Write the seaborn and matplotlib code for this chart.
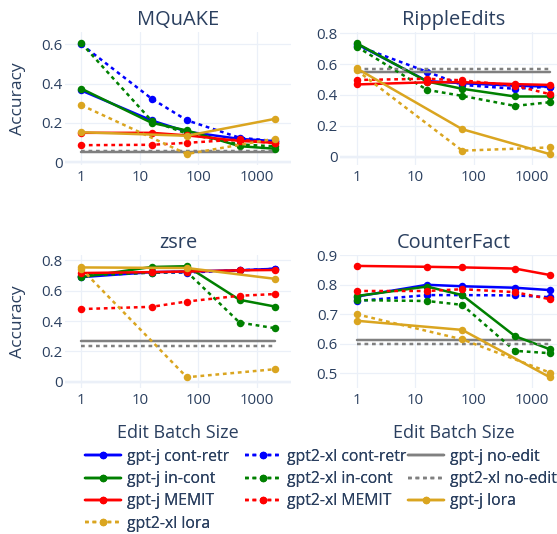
import matplotlib
matplotlib.use("Agg")
import matplotlib.pyplot as plt
import pandas as pd
import seaborn as sns
from matplotlib.lines import Line2D

# ---------------------------------------------------------------- data
batch_sizes = [1, 16, 64, 512, 2048]
lora_batch_sizes = [1, 64, 2048]
datasets = ["MQuAKE", "RippleEdits", "zsre", "CounterFact"]

mquake = {
    "gpt-j cont-retr": [0.365, 0.212, 0.155, 0.118, 0.107],
    "gpt2-xl cont-retr": [0.600, 0.323, 0.213, 0.124, 0.107],
    "gpt-j in-cont": [0.374, 0.200, 0.161, 0.081, 0.068],
    "gpt2-xl in-cont": [0.606, 0.210, 0.145, 0.090, 0.080],
    "gpt-j MEMIT": [0.149, 0.149, 0.136, 0.108, 0.098],
    "gpt2-xl MEMIT": [0.086, 0.088, 0.098, 0.115, 0.095],
    "gpt-j lora": [0.152, 0.134, 0.220],
    "gpt2-xl lora": [0.290, 0.041, 0.119],
}
rippleedits = {
    "gpt-j cont-retr": [0.730, 0.490, 0.476, 0.460, 0.454],
    "gpt2-xl cont-retr": [0.720, 0.550, 0.465, 0.440, 0.454],
    "gpt-j in-cont": [0.735, 0.487, 0.440, 0.390, 0.390],
    "gpt2-xl in-cont": [0.713, 0.433, 0.394, 0.329, 0.353],
    "gpt-j MEMIT": [0.468, 0.482, 0.483, 0.470, 0.465],
    "gpt2-xl MEMIT": [0.497, 0.505, 0.495, 0.460, 0.405],
    "gpt-j lora": [0.572, 0.178, 0.016],
    "gpt2-xl lora": [0.560, 0.039, 0.060],
}
zsre = {
    "gpt-j cont-retr": [0.690, 0.723, 0.727, 0.735, 0.745],
    "gpt2-xl cont-retr": [0.700, 0.720, 0.720, 0.735, 0.745],
    "gpt-j in-cont": [0.690, 0.757, 0.762, 0.540, 0.496],
    "gpt2-xl in-cont": [0.700, 0.720, 0.725, 0.390, 0.353],
    "gpt-j MEMIT": [0.717, 0.723, 0.727, 0.735, 0.737],
    "gpt2-xl MEMIT": [0.479, 0.494, 0.529, 0.567, 0.578],
    "gpt-j lora": [0.754, 0.750, 0.679],
    "gpt2-xl lora": [0.745, 0.029, 0.082],
}
counterfact = {
    "gpt-j cont-retr": [0.760, 0.800, 0.795, 0.790, 0.782],
    "gpt2-xl cont-retr": [0.745, 0.765, 0.765, 0.764, 0.758],
    "gpt-j in-cont": [0.762, 0.794, 0.765, 0.626, 0.581],
    "gpt2-xl in-cont": [0.748, 0.745, 0.732, 0.576, 0.568],
    "gpt-j MEMIT": [0.864, 0.861, 0.859, 0.855, 0.833],
    "gpt2-xl MEMIT": [0.779, 0.779, 0.785, 0.775, 0.751],
    "gpt-j lora": [0.678, 0.647, 0.486],
    "gpt2-xl lora": [0.700, 0.615, 0.502],
}
# unedited baselines (gpt-j, gpt2-xl)
no_edit_gptj = [0.052, 0.547, 0.271, 0.613]
no_edit_gpt2xl = [0.058, 0.567, 0.232, 0.598]

y_ticks = [
    [0, 0.2, 0.4, 0.6],
    [0, 0.2, 0.4, 0.6, 0.8],
    [0, 0.2, 0.4, 0.6, 0.8],
    [0.5, 0.6, 0.7, 0.8, 0.9],
]
y_tick_labels = [
    ["0", "0.2", "0.4", "0.6"],
    ["0", "0.2", "0.4", "0.6", "0.8"],
    ["0", "0.2", "0.4", "0.6", "0.8"],
    ["0.5", "0.6", "0.7", "0.8", "0.9"],
]
x_ticks = [1, 10, 100, 1000]
x_tick_labels = ["1", "10", "100", "1000"]

# ---------------------------------------------------------------- style
TEXT = "#2a3f5f"
GRID = "#EBF0F8"
FONT = ["Open Sans", "DejaVu Sans"]
sns.set_theme(style="white")
plt.rcParams["font.family"] = FONT
plt.rcParams["text.color"] = TEXT

colors = {"cont-retr": "#0000ff", "in-cont": "#008000", "MEMIT": "#ff0000", "lora": "#daa520"}
DOT = (0, (1.5, 1.5))
PT = 0.72            # px -> pt at 100 dpi
LW = 2.5 * PT
MS = 7.5 * PT
LEG_PX = 15.8

W, H = 557, 534
fig = plt.figure(figsize=(W / 100, H / 100), dpi=100)
fig.patch.set_facecolor("white")


def rect(l, t, r, b):
    return [l / W, 1 - b / H, (r - l) / W, (b - t) / H]


panel_rects = [
    rect(65, 32, 291, 165),
    rect(340.4, 32, 566.4, 165),
    rect(65, 255, 291, 388),
    rect(340.4, 255, 566.4, 388),
]
y_limits = [(-0.015, 0.663), (-0.054, 0.808), (-0.042, 0.836), (0.450, 0.901)]
panel_data = [mquake, rippleedits, zsre, counterfact]

# drawing order of traces (later ones sit on top)
trace_order = [
    "gpt-j cont-retr", "gpt2-xl cont-retr", "gpt-j no-edit",
    "gpt-j in-cont", "gpt2-xl in-cont", "gpt2-xl no-edit",
    "gpt-j MEMIT", "gpt2-xl MEMIT", "gpt-j lora", "gpt2-xl lora",
]


def series_style(name):
    model, method = name.split(" ", 1)
    ls = "-" if model == "gpt-j" else DOT
    if method == "no-edit":
        return "#808080", ls, None
    return colors[method], ls, "o"


for i, (name, data) in enumerate(zip(datasets, panel_data)):
    ax = fig.add_axes(panel_rects[i])
    ax.set_facecolor("white")
    for s in ax.spines.values():
        s.set_visible(False)
    ax.set_xscale("log")
    ax.set_xlim(10 ** -0.28, 10 ** 3.59)
    ax.set_ylim(*y_limits[i])
    ax.set_xticks(x_ticks)
    ax.set_xticklabels(x_tick_labels)
    ax.xaxis.set_minor_locator(matplotlib.ticker.NullLocator())
    ax.set_yticks(y_ticks[i])
    ax.set_yticklabels(y_tick_labels[i])
    ax.tick_params(axis="both", length=0, labelsize=15 * PT, labelcolor=TEXT)
    ax.tick_params(axis="x", pad=3.5)
    ax.tick_params(axis="y", pad=1.8)
    ax.grid(True, color=GRID, linewidth=1.25 * PT, zorder=0)
    ax.set_axisbelow(True)
    if y_limits[i][0] < 0 < y_limits[i][1]:
        ax.axhline(0, color=GRID, linewidth=2.5 * PT, zorder=0.5)

    for k, trace in enumerate(trace_order):
        color, ls, marker = series_style(trace)
        if trace.endswith("no-edit"):
            val = (no_edit_gptj if trace.startswith("gpt-j") else no_edit_gpt2xl)[i]
            df = pd.DataFrame({"batch": [batch_sizes[0], batch_sizes[-1]], "acc": [val, val]})
        else:
            xs = lora_batch_sizes if trace.endswith("lora") else batch_sizes
            df = pd.DataFrame({"batch": xs, "acc": data[trace]})
        sns.lineplot(
            data=df, x="batch", y="acc", ax=ax, color=color, linestyle=ls,
            linewidth=LW, marker=marker, markersize=MS, markeredgewidth=0,
            legend=False, errorbar=None, sort=False, zorder=2 + k * 0.01,
        )
    ax.set_xlabel("")
    ax.set_ylabel("")


def ftext(xp, yp, s, size, **kw):
    fig.text(xp / W, 1 - yp / H, s, fontsize=size * PT, color=TEXT,
             family=FONT, **kw)


# panel titles
ftext(178, 24.5, "MQuAKE", 20, ha="center", va="baseline")
ftext(453.4, 24.5, "RippleEdits", 20, ha="center", va="baseline")
ftext(178, 248, "zsre", 20, ha="center", va="baseline")
ftext(453.4, 248, "CounterFact", 20, ha="center", va="baseline")
# axis titles
ftext(17.5, 98.5, "Accuracy", 17.5, ha="center", va="center", rotation=90)
ftext(17.5, 321.5, "Accuracy", 17.5, ha="center", va="center", rotation=90)
ftext(178, 438, "Edit Batch Size", 18, ha="center", va="baseline")
ftext(453.4, 438, "Edit Batch Size", 18, ha="center", va="baseline")

# legend, three columns
legend_columns = [
    (85, ["gpt-j cont-retr", "gpt-j in-cont", "gpt-j MEMIT", "gpt2-xl lora"]),
    (245, ["gpt2-xl cont-retr", "gpt2-xl in-cont", "gpt2-xl MEMIT"]),
    (407.7, ["gpt-j no-edit", "gpt2-xl no-edit", "gpt-j lora"]),
]
for x0, names in legend_columns:
    handles = []
    for n in names:
        color, ls, marker = series_style(n)
        handles.append(Line2D([], [], color=color, linestyle=ls, linewidth=LW,
                              marker=marker, markersize=MS, markeredgewidth=0))
    leg = fig.legend(
        handles, names, loc="upper left", bbox_to_anchor=(x0 / W, 1 - 448.8 / H),
        frameon=False, borderpad=0, borderaxespad=0,
        handlelength=36 / LEG_PX, handletextpad=6 / LEG_PX,
        labelspacing=(22.05 - LEG_PX) / LEG_PX,
        prop={"family": FONT, "size": LEG_PX * PT}, labelcolor=TEXT,
    )
    fig.add_artist(leg)

fig.savefig("out.png", dpi=100, facecolor="white")
